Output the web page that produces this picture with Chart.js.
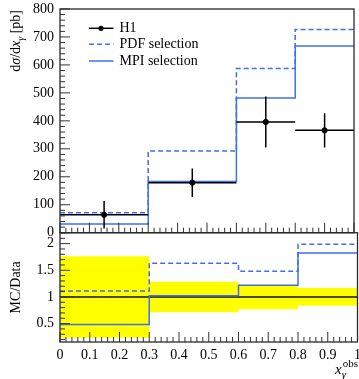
<!DOCTYPE html>
<html>
<head>
<meta charset="utf-8">
<script src="https://cdn.jsdelivr.net/npm/chart.js@4/dist/chart.umd.min.js"></script>
<style>
  html, body { margin: 0; padding: 0; background: #fff; }
  #wrap { position: relative; width: 359px; height: 379px; }
  #wrap canvas { position: absolute; left: 0; top: 0; }
</style>
</head>
<body>
<div id="wrap">
  <canvas id="main" width="359" height="379"></canvas>
  <canvas id="ratio" width="359" height="379"></canvas>
</div>
<script>
// Bin edges in x_gamma^obs
const binEdges = [0, 0.3, 0.6, 0.8, 1.0];
// H1 measurement and its total uncertainty [pb]
const h1Values = [64, 179, 396, 366];
const h1Errors = [49, 51, 91, 61];
// Monte Carlo predictions [pb]
const pdfSelection = [71, 292, 587, 727];
const mpiSelection = [31, 183, 482, 668];

// Axis tick labels
const mainYTicks = [0, 100, 200, 300, 400, 500, 600, 700, 800];
const ratioYTicks = [0.5, 1, 1.5, 2];
const xTicks = [0, 0.1, 0.2, 0.3, 0.4, 0.5, 0.6, 0.7, 0.8, 0.9, 1];

const BLUE = '#3f6ef2';
const SERIF = '"Liberation Serif", "DejaVu Serif", serif';
const LABEL_FONT = { family: SERIF, size: 14 };

const binCenters = binEdges.slice(0, -1).map((e, i) => (e + binEdges[i + 1]) / 2);

// histogram outline: one point per left bin edge plus the closing right edge
function stepPoints(values) {
  const pts = values.map((v, i) => ({ x: binEdges[i], y: v }));
  pts.push({ x: binEdges[binEdges.length - 1], y: values[values.length - 1] });
  return pts;
}

// MC/Data ratios and the relative data uncertainty band
const pdfRatio = pdfSelection.map((v, i) => v / h1Values[i]);
const mpiRatio = mpiSelection.map((v, i) => v / h1Values[i]);
const bandUpper = h1Errors.map((e, i) => 1 + e / h1Values[i]);
const bandLower = h1Errors.map((e, i) => 1 - e / h1Values[i]);
const unity = h1Values.map(() => 1);

// minor tick positions between the labelled ones
const mainYMinor = []; for (let i = 0; i <= 40; i++) mainYMinor.push(i * 20);
const ratioYMinor = []; for (let i = 2; i <= 22; i++) ratioYMinor.push(i / 10);
const xMinor = []; for (let i = 0; i <= 50; i++) xMinor.push(i / 50);

// frame around the plot area with inward-pointing ticks on the left and bottom
function framePlugin(id, yMajor, yMinor) {
  return {
    id,
    afterDraw(chart) {
      const { ctx, chartArea: a, scales } = chart;
      const xs = scales.x, ys = scales.y;
      ctx.save();
      ctx.strokeStyle = '#333';
      ctx.lineWidth = 1;
      ctx.beginPath();
      yMinor.forEach(v => {
        const y = ys.getPixelForValue(v);
        if (y < a.top - 0.5 || y > a.bottom + 0.5) return;
        const len = yMajor.includes(Math.round(v * 1000) / 1000) ? 10 : 5;
        ctx.moveTo(a.left, y); ctx.lineTo(a.left + len, y);
      });
      xMinor.forEach(v => {
        const x = xs.getPixelForValue(v);
        const major = Math.abs(v * 10 - Math.round(v * 10)) < 1e-6;
        const len = major ? 10 : 5;
        ctx.moveTo(x, a.bottom); ctx.lineTo(x, a.bottom - len);
      });
      ctx.stroke();
      ctx.lineWidth = 1.3;
      ctx.strokeStyle = '#2a2a2a';
      ctx.strokeRect(a.left, a.top, a.right - a.left, a.bottom - a.top);
      ctx.restore();
    }
  };
}

// draws a run of text pieces along a baseline; returns total width
function richText(ctx, segs, x, y, measureOnly) {
  let cx = x;
  segs.forEach(s => {
    ctx.font = (s.italic ? 'italic ' : '') + s.size + 'px ' + SERIF;
    if (!measureOnly) ctx.fillText(s.t, cx, y + (s.dy || 0));
    cx += ctx.measureText(s.t).width;
  });
  return cx - x;
}

const yTitleSegs = [
  { t: 'd', size: 14 }, { t: 'σ', size: 14, italic: true }, { t: '/d', size: 14 },
  { t: 'x', size: 14, italic: true }, { t: 'γ', size: 10, italic: true, dy: 3.5 },
  { t: ' [pb]', size: 14 }
];

const mainDecor = {
  id: 'mainDecor',
  afterDatasetsDraw(chart) {
    const { ctx, scales: { x: xs, y: ys } } = chart;
    ctx.save();
    ctx.strokeStyle = '#000';
    ctx.lineWidth = 1.5;
    ctx.beginPath();
    h1Values.forEach((v, i) => {
      const y = ys.getPixelForValue(v);
      ctx.moveTo(xs.getPixelForValue(binEdges[i]), y);
      ctx.lineTo(xs.getPixelForValue(binEdges[i + 1]), y);
      const xc = xs.getPixelForValue(binCenters[i]);
      ctx.moveTo(xc, ys.getPixelForValue(v + h1Errors[i]));
      ctx.lineTo(xc, ys.getPixelForValue(v - h1Errors[i]));
    });
    ctx.stroke();
    ctx.restore();
  },
  afterDraw(chart) {
    const { ctx } = chart;
    ctx.save();
    ctx.fillStyle = '#000';
    ctx.textBaseline = 'alphabetic';
    // rotated y-axis title, top-aligned
    const w = richText(ctx, yTitleSegs, 0, 0, true);
    ctx.translate(20, 10 + w);
    ctx.rotate(-Math.PI / 2);
    richText(ctx, yTitleSegs, 0, 0, false);
    ctx.restore();

    // legend
    const entries = [
      { label: 'H1', color: '#000', dash: [], dot: true, y: 28.3 },
      { label: 'PDF selection', color: BLUE, dash: [5, 3], y: 44.3 },
      { label: 'MPI selection', color: BLUE, dash: [], y: 61 }
    ];
    ctx.save();
    entries.forEach(e => {
      ctx.strokeStyle = e.color;
      ctx.lineWidth = 1.5;
      ctx.setLineDash(e.dash);
      ctx.beginPath();
      ctx.moveTo(89, e.y); ctx.lineTo(113.5, e.y);
      ctx.stroke();
      ctx.setLineDash([]);
      if (e.dot) {
        ctx.fillStyle = '#000';
        ctx.beginPath(); ctx.arc(101, e.y, 2.6, 0, Math.PI * 2); ctx.fill();
      }
      ctx.fillStyle = '#000';
      ctx.font = '14px ' + SERIF;
      ctx.textBaseline = 'middle';
      ctx.fillText(e.label, 119.5, e.y);
    });
    ctx.restore();
  }
};

const ratioDecor = {
  id: 'ratioDecor',
  afterDraw(chart) {
    const { ctx } = chart;
    ctx.save();
    ctx.fillStyle = '#000';
    ctx.textBaseline = 'alphabetic';
    // rotated ratio title, centred on the panel
    ctx.font = '14px ' + SERIF;
    const a = chart.chartArea;
    ctx.translate(20, (a.top + a.bottom) / 2);
    ctx.rotate(-Math.PI / 2);
    ctx.textAlign = 'center';
    ctx.fillText('MC/Data', 0, 0);
    ctx.restore();

    // x-axis title, right-aligned under the axis
    ctx.save();
    ctx.fillStyle = '#000';
    ctx.textBaseline = 'alphabetic';
    ctx.font = 'italic 15px ' + SERIF;
    const wx = ctx.measureText('x').width;
    ctx.font = '11px ' + SERIF;
    const wo = ctx.measureText('obs').width;
    const x0 = 358 - wx - wo - 1;
    ctx.font = 'italic 15px ' + SERIF;
    ctx.fillText('x', x0, 374);
    ctx.font = '11px ' + SERIF;
    ctx.fillText('obs', x0 + wx + 1, 366.5);
    ctx.font = 'italic 11px ' + SERIF;
    ctx.fillText('γ', x0 + wx, 377.5);
    ctx.restore();
  }
};

const commonY = {
  type: 'linear',
  afterFit(s) { s.width = 60; s.paddingTop = 0; s.paddingBottom = 0; },
  grid: { display: false, drawTicks: false },
  border: { display: false },
  ticks: { padding: 6, font: LABEL_FONT, color: '#000' }
};

new Chart(document.getElementById('main'), {
  type: 'line',
  data: {
    datasets: [
      { label: 'H1', data: h1Values.map((v, i) => ({ x: binCenters[i], y: v })), showLine: false,
        pointRadius: 2.6, pointBackgroundColor: '#000', pointBorderColor: '#000', borderColor: '#000' },
      { label: 'MPI selection', data: stepPoints(mpiSelection), stepped: true, borderColor: BLUE,
        borderWidth: 1.5, pointRadius: 0, fill: false },
      { label: 'PDF selection', data: stepPoints(pdfSelection), stepped: true, borderColor: BLUE,
        borderWidth: 1.5, borderDash: [5, 3], pointRadius: 0, fill: false }
    ]
  },
  options: {
    responsive: false, animation: false, devicePixelRatio: 1,
    layout: { padding: { left: 0, right: 1.5, top: 9, bottom: 146.3 } },
    plugins: { legend: { display: false }, tooltip: { enabled: false } },
    scales: {
      x: { type: 'linear', min: 0, max: 1, display: false },
      y: Object.assign({}, commonY, {
        min: 0, max: 800,
        afterBuildTicks(s) { s.ticks = mainYTicks.map(v => ({ value: v })); },
        ticks: Object.assign({}, commonY.ticks, { callback: v => String(v) })
      })
    }
  },
  plugins: [mainDecor, framePlugin('mainFrame', mainYTicks, mainYMinor)]
});

new Chart(document.getElementById('ratio'), {
  type: 'line',
  data: {
    datasets: [
      { label: 'PDF selection', data: stepPoints(pdfRatio), stepped: true, borderColor: BLUE,
        borderWidth: 1.5, borderDash: [5, 3], pointRadius: 0, fill: false, order: 0 },
      { label: 'MPI selection', data: stepPoints(mpiRatio), stepped: true, borderColor: BLUE,
        borderWidth: 1.5, pointRadius: 0, fill: false, order: 1 },
      { label: 'H1', data: stepPoints(unity), stepped: true, borderColor: 'rgba(0,0,0,0.7)',
        borderWidth: 2, pointRadius: 0, fill: false, order: 2 },
      { label: 'H1 uncertainty', data: stepPoints(bandUpper), stepped: true, borderWidth: 0,
        borderColor: 'rgba(0,0,0,0)', backgroundColor: '#ffff00', pointRadius: 0, fill: '+1', order: 9 },
      { label: 'H1 uncertainty low', data: stepPoints(bandLower), stepped: true, borderWidth: 0,
        borderColor: 'rgba(0,0,0,0)', pointRadius: 0, fill: false, order: 10 }
    ]
  },
  options: {
    responsive: false, animation: false, devicePixelRatio: 1,
    layout: { padding: { left: 0, right: 1.5, top: 232.7, bottom: 0 } },
    plugins: { legend: { display: false }, tooltip: { enabled: false },
               filler: { drawTime: 'beforeDatasetsDraw' } },
    scales: {
      x: {
        type: 'linear', min: 0, max: 1,
        afterFit(s) { s.height = 37; s.paddingLeft = 0; s.paddingRight = 0; },
        afterBuildTicks(s) { s.ticks = xTicks.map(v => ({ value: v })); },
        grid: { display: false, drawTicks: false },
        border: { display: false },
        ticks: { padding: 5, font: LABEL_FONT, color: '#000', maxRotation: 0, autoSkip: false,
                 callback: v => (v === 0 || v === 1) ? String(v) : v.toFixed(1) }
      },
      y: Object.assign({}, commonY, {
        min: 0.155, max: 2.205,
        afterBuildTicks(s) { s.ticks = ratioYTicks.map(v => ({ value: v })); },
        ticks: Object.assign({}, commonY.ticks, { callback: v => String(v) })
      })
    }
  },
  plugins: [ratioDecor, framePlugin('ratioFrame', ratioYTicks, ratioYMinor)]
});
</script>
</body>
</html>
